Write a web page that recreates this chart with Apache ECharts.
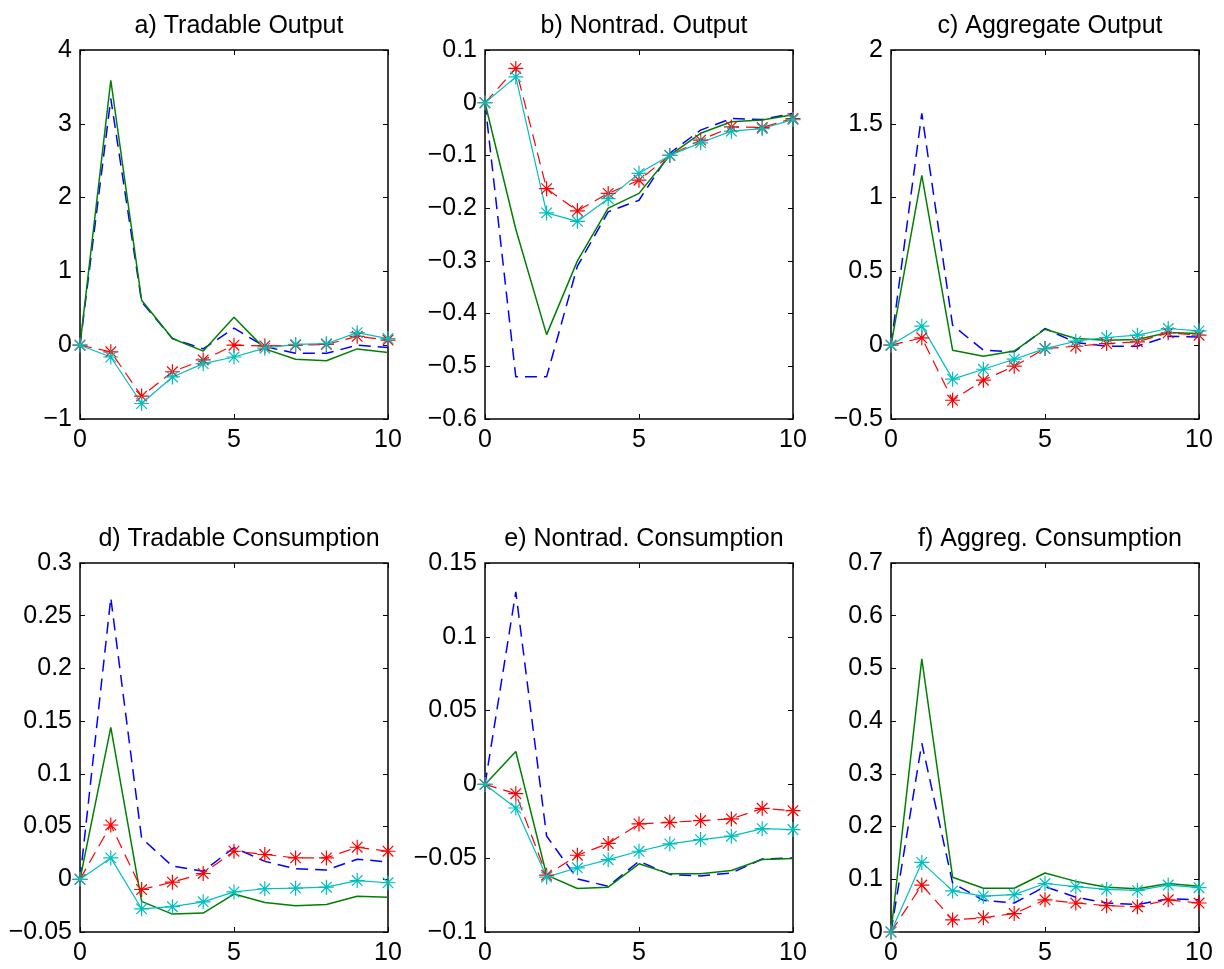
<!DOCTYPE html>
<html>
<head>
<meta charset="utf-8">
<script src="https://cdn.jsdelivr.net/npm/echarts@6/dist/echarts.min.js"></script>
<style>
  html, body { margin: 0; padding: 0; background: #fff; }
  #main { width: 1224px; height: 969px; }
</style>
</head>
<body>
<div id="main"></div>
<script>
// horizon 0..10
var periods = [0, 1, 2, 3, 4, 5, 6, 7, 8, 9, 10];

// a) Tradable Output
var aBlue  = [0, 3.34, 0.59, 0.09, -0.05, 0.23, -0.02, -0.11, -0.11, 0, -0.03];
var aGreen = [0, 3.59, 0.61, 0.09, -0.08, 0.38, -0.05, -0.19, -0.21, -0.05, -0.10];
var aRed   = [0, -0.09, -0.69, -0.36, -0.20, 0, -0.01, 0, 0.01, 0.12, 0.07];
var aCyan  = [0, -0.16, -0.79, -0.43, -0.25, -0.16, -0.04, 0.01, 0.02, 0.17, 0.09];

// b) Nontrad. Output
var bBlue  = [0, -0.52, -0.52, -0.31, -0.207, -0.185, -0.096, -0.052, -0.03, -0.032, -0.02];
var bGreen = [0, -0.24, -0.44, -0.30, -0.20, -0.172, -0.10, -0.058, -0.036, -0.033, -0.023];
var bRed   = [0, 0.065, -0.163, -0.205, -0.172, -0.147, -0.10, -0.071, -0.046, -0.047, -0.03];
var bCyan  = [0, 0.049, -0.209, -0.225, -0.182, -0.134, -0.10, -0.076, -0.054, -0.049, -0.032];

// c) Aggregate Output
var cBlue  = [0, 1.57, 0.135, -0.034, -0.045, 0.113, 0.018, -0.007, -0.007, 0.06, 0.056];
var cGreen = [0, 1.15, -0.034, -0.075, -0.04, 0.108, 0.045, 0.034, 0.038, 0.086, 0.079];
var cRed   = [0, 0.05, -0.373, -0.237, -0.142, -0.023, -0.007, 0.011, 0.023, 0.084, 0.068];
var cCyan  = [0, 0.129, -0.23, -0.163, -0.095, -0.023, 0.027, 0.052, 0.068, 0.113, 0.097];

// d) Tradable Consumption
var dBlue  = [0, 0.267, 0.039, 0.0125, 0.0077, 0.03, 0.017, 0.01, 0.0087, 0.019, 0.0165];
var dGreen = [0, 0.144, -0.021, -0.033, -0.032, -0.014, -0.022, -0.025, -0.024, -0.016, -0.017];
var dRed   = [0, 0.0515, -0.0097, -0.0027, 0.0055, 0.0266, 0.0235, 0.0203, 0.0203, 0.0304, 0.0266];
var dCyan  = [0, 0.0203, -0.028, -0.026, -0.0214, -0.012, -0.009, -0.0084, -0.0075, -0.0012, -0.0033];

// e) Nontrad. Consumption
var eBlue  = [0, 0.1304, -0.035, -0.064, -0.069, -0.052, -0.061, -0.062, -0.060, -0.0505, -0.0498];
var eGreen = [0, 0.0223, -0.0615, -0.0705, -0.0696, -0.0538, -0.0606, -0.0606, -0.0583, -0.0509, -0.0502];
var eRed   = [0, -0.0063, -0.0615, -0.048, -0.040, -0.0268, -0.0257, -0.0245, -0.0234, -0.0162, -0.0178];
var eCyan  = [0, -0.016, -0.0628, -0.0565, -0.051, -0.0453, -0.0403, -0.0374, -0.0351, -0.030, -0.0306];

// f) Aggreg. Consumption
var fBlue  = [0, 0.358, 0.093, 0.06, 0.055, 0.086, 0.066, 0.055, 0.052, 0.063, 0.061];
var fGreen = [0, 0.518, 0.104, 0.083, 0.083, 0.112, 0.096, 0.085, 0.082, 0.092, 0.087];
var fRed   = [0, 0.089, 0.023, 0.027, 0.035, 0.061, 0.055, 0.05, 0.048, 0.061, 0.055];
var fCyan  = [0, 0.132, 0.078, 0.068, 0.071, 0.092, 0.086, 0.081, 0.079, 0.089, 0.084];

var titles = ['a) Tradable Output', 'b) Nontrad. Output', 'c) Aggregate Output',
  'd) Tradable Consumption', 'e) Nontrad. Consumption', 'f) Aggreg. Consumption'];
var yMin = [-1, -0.6, -0.5, -0.05, -0.1, 0];
var yMax = [4, 0.1, 2, 0.3, 0.15, 0.7];
var yStep = [1, 0.1, 0.5, 0.05, 0.05, 0.1];
var panels = [
  [aBlue, aGreen, aRed, aCyan],
  [bBlue, bGreen, bRed, bCyan],
  [cBlue, cGreen, cRed, cCyan],
  [dBlue, dGreen, dRed, dCyan],
  [eBlue, eGreen, eRed, eCyan],
  [fBlue, fGreen, fRed, fCyan]
];

var lefts = [80, 485, 891];
var tops = [50, 563];
var W = 308, H = 369;
var font = '"Liberation Sans", Arial, Helvetica, sans-serif';
var star = 'path://M0,-6L0,6M-6,0L6,0M-4.24,-4.24L4.24,4.24M-4.24,4.24L4.24,-4.24';

function fmt(v) {
  return String(+v.toFixed(4)).replace('-', '\u2212');
}

var myChart = echarts.init(document.getElementById('main'));
var grid = [], xAxis = [], yAxis = [], series = [], title = [];

for (var i = 0; i < 6; i++) {
  var gl = lefts[i % 3], gt = tops[Math.floor(i / 3)];
  grid.push({ left: gl, top: gt, width: W, height: H, show: true, borderColor: '#000', borderWidth: 1.5, backgroundColor: '#fff' });
  title.push({
    text: titles[i], left: gl + W / 2, top: gt - 41, textAlign: 'center',
    textStyle: { fontFamily: font, fontSize: 25, fontWeight: 'normal', color: '#000' }
  });
  // bottom / left axes with labels, top / right axes for the inward ticks only
  ['bottom', 'top'].forEach(function (pos) {
    xAxis.push({
      type: 'value', gridIndex: i, position: pos, min: 0, max: 10, interval: 5,
      axisLine: { show: false, onZero: false }, splitLine: { show: false },
      axisTick: { show: true, inside: true, length: 5, lineStyle: { color: '#000' } },
      axisLabel: { show: pos === 'bottom', margin: 9, color: '#000', fontFamily: font, fontSize: 25, formatter: fmt }
    });
  });
  ['left', 'right'].forEach(function (pos) {
    yAxis.push({
      type: 'value', gridIndex: i, position: pos, min: yMin[i], max: yMax[i], interval: yStep[i],
      axisLine: { show: false, onZero: false }, splitLine: { show: false },
      axisTick: { show: true, inside: true, length: 5, lineStyle: { color: '#000' } },
      axisLabel: { show: pos === 'left', margin: 8, color: '#000', fontFamily: font, fontSize: 25, formatter: fmt }
    });
  });

  var p = panels[i];
  var pts = function (arr) { return periods.map(function (x, k) { return [x, arr[k]]; }); };
  series.push({
    type: 'line', xAxisIndex: 2 * i, yAxisIndex: 2 * i, data: pts(p[0]), showSymbol: false, symbol: 'none',
    lineStyle: { color: '#0000ff', width: 1.5, type: [12, 7] }, silent: true, animation: false
  });
  series.push({
    type: 'line', xAxisIndex: 2 * i, yAxisIndex: 2 * i, data: pts(p[1]), showSymbol: false, symbol: 'none',
    lineStyle: { color: '#008000', width: 1.5 }, silent: true, animation: false
  });
  series.push({
    type: 'line', xAxisIndex: 2 * i, yAxisIndex: 2 * i, data: pts(p[2]), symbol: star, symbolSize: 15,
    itemStyle: { color: 'none', borderColor: '#ff0000', borderWidth: 1.2 },
    lineStyle: { color: '#ff0000', width: 1.2, type: [12, 7] }, silent: true, animation: false
  });
  series.push({
    type: 'line', xAxisIndex: 2 * i, yAxisIndex: 2 * i, data: pts(p[3]), symbol: star, symbolSize: 15,
    itemStyle: { color: 'none', borderColor: '#00bfbf', borderWidth: 1.2 },
    lineStyle: { color: '#00bfbf', width: 1.2 }, silent: true, animation: false
  });
}

myChart.setOption({
  backgroundColor: '#fff',
  animation: false,
  title: title,
  grid: grid,
  xAxis: xAxis,
  yAxis: yAxis,
  series: series
});
</script>
</body>
</html>
